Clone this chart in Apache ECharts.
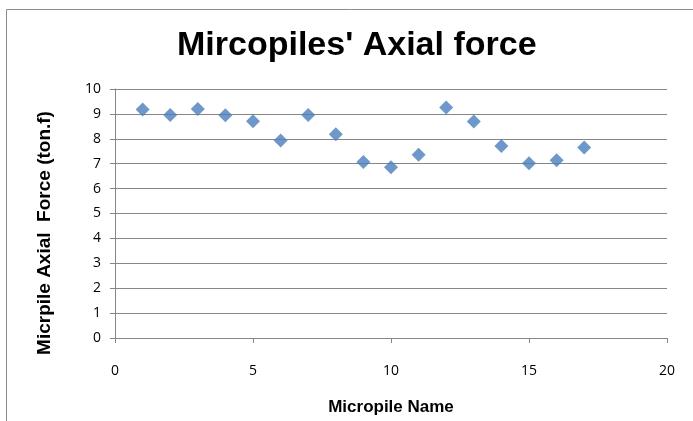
<!DOCTYPE html>
<html><head><meta charset="utf-8">
<script src="https://cdn.jsdelivr.net/npm/echarts@6/dist/echarts.min.js"></script>
<style>html,body{margin:0;padding:0;background:#fff}#c{width:693px;height:421px}</style>
</head><body><div id="c"></div>
<script>
const micropileIds = [1,2,3,4,5,6,7,8,9,10,11,12,13,14,15,16,17];
const axialForce = [9.18,8.96,9.2,8.95,8.7,7.93,8.96,8.18,7.07,6.86,7.36,9.26,8.69,7.71,7.02,7.14,7.65];
const yAxisTitle = 'Micrpile Axial  Force (ton.f)';
const chart = echarts.init(document.getElementById('c'));
chart.setOption({
  animation:false,
  graphic:[
    {type:'rect',shape:{x:6.5,y:9.5,width:720,height:440},style:{fill:'none',stroke:'#8c8c8c',lineWidth:1},silent:true},
    {type:'text',x:45,y:233,rotation:Math.PI/2,style:{text:yAxisTitle,fontFamily:'Liberation Sans',fontWeight:'bold',fontSize:19,fill:'#000',align:'center',verticalAlign:'middle'},silent:true}
  ],
  title:{text:"Mircopiles' Axial force",left:172,top:24,textStyle:{fontFamily:'Liberation Sans',fontWeight:'bold',fontSize:34,color:'#000'}},
  grid:{left:115,right:26,top:89,bottom:83,containLabel:false,outerBoundsMode:'none'},
  xAxis:{type:'value',min:0,max:20,interval:5,
    name:'Micropile Name',nameLocation:'middle',nameGap:61,
    nameTextStyle:{fontFamily:'Liberation Sans',fontWeight:'bold',fontSize:17,color:'#000'},
    axisLine:{show:true,lineStyle:{color:'#868686'}},
    axisTick:{show:true,length:5,lineStyle:{color:'#868686'}},
    axisLabel:{margin:26,fontFamily:'Open Sans',fontSize:14,color:'#000'},
    splitLine:{show:false}},
  yAxis:{type:'value',min:0,max:10,interval:1,
    axisLine:{show:true,lineStyle:{color:'#868686'}},
    axisTick:{show:true,length:5,lineStyle:{color:'#868686'}},
    axisLabel:{margin:14,fontFamily:'Open Sans',fontSize:14,color:'#000'},
    splitLine:{show:true,lineStyle:{color:'#868686',width:1}}},
  series:[{type:'scatter',symbol:'diamond',symbolSize:14,
    itemStyle:{color:'#4A7EBB'},
    data:micropileIds.map((x,i)=>[x,axialForce[i]])}]
});
</script></body></html>
